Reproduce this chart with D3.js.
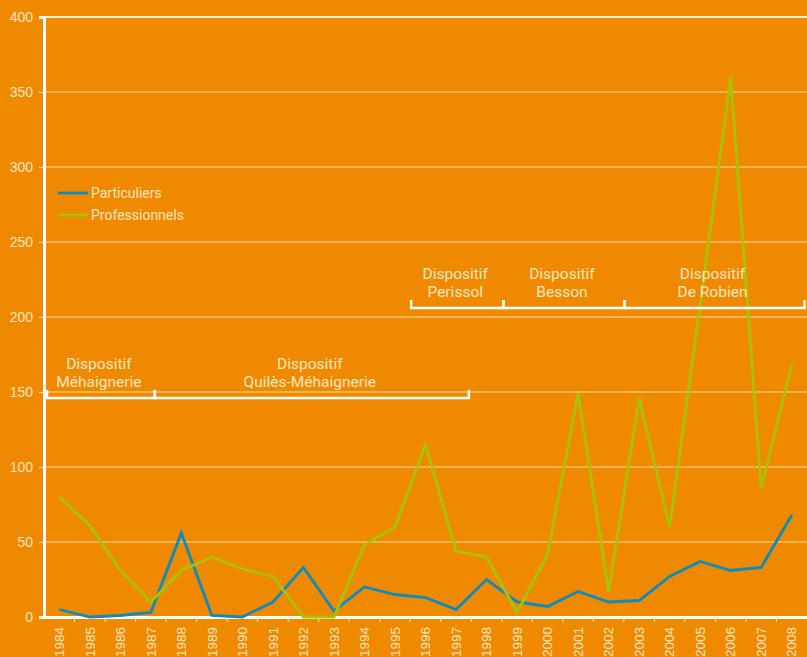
<!DOCTYPE html>
<html>
<head>
<meta charset="utf-8">
<script src="https://cdn.jsdelivr.net/npm/d3@7"></script>
<style>
  html, body { margin: 0; padding: 0; background: #ef8a00; }
  svg { display: block; font-family: "Roboto", "DejaVu Sans", sans-serif; }
</style>
</head>
<body>
<div id="chart"></div>
<script>
// Years and series values
const years = d3.range(1984, 2009);
const particuliers = [5, 0, 1, 3, 56, 1, 0, 10, 33, 4, 20, 15, 13, 5, 25, 10, 7, 17, 10, 11, 27, 37, 31, 33, 68];
const professionnels = [80, 61, 31, 10, 31, 40, 32, 27, 0, 0, 48, 60, 115, 44, 40, 3, 42, 149, 17, 146, 60, 208, 360, 86, 168];
const yTicks = [0, 50, 100, 150, 200, 250, 300, 350, 400];

// Periods of the tax schemes (year span, level of the bracket)
const periods = [
    { lines: ["Dispositif", "Méhaignerie"], from: 1983.6, to: 1987.13, level: 146 },
    { lines: ["Dispositif", "Quilès-Méhaignerie"], from: 1987.13, to: 1997.42, level: 146 },
    { lines: ["Dispositif", "Perissol"], from: 1995.53, to: 1998.55, level: 206 },
    { lines: ["Dispositif", "Besson"], from: 1998.55, to: 2002.52, level: 206 },
    { lines: ["Dispositif", "De Robien"], from: 2002.52, to: 2008.42, level: 206 }
];

const series = [
    { name: "Particuliers", values: particuliers, color: "#0b8bc4" },
    { name: "Professionnels", values: professionnels, color: "#a8c300" }
];

const width = 807, height = 657;
const margin = { top: 17, right: 0, bottom: 40, left: 44 };
const textColor = "#fde6c4";

const svg = d3.select("#chart")
    .append("svg")
    .attr("width", width)
    .attr("height", height);

svg.append("rect")
    .attr("width", width)
    .attr("height", height)
    .attr("fill", "#ef8a00");

const x = d3.scaleBand()
    .domain(years)
    .range([margin.left, width - margin.right]);

// continuous year scale, for the brackets
const xYear = d3.scaleLinear()
    .domain([1984, 2008])
    .range([x(1984) + x.bandwidth() / 2, x(2008) + x.bandwidth() / 2]);

const y = d3.scaleLinear()
    .domain([0, 400])
    .range([height - margin.bottom, margin.top]);

// Gridlines
svg.append("g")
    .selectAll("line")
    .data(yTicks.slice(1))
    .enter()
    .append("line")
    .attr("x1", margin.left)
    .attr("x2", width)
    .attr("y1", d => y(d))
    .attr("y2", d => y(d))
    .attr("stroke", d => d === 400 ? "#fdf0dc" : "#f9d9a6")
    .attr("stroke-width", d => d === 400 ? 2 : 1.2);

// Y axis
const yAxis = svg.append("g")
    .attr("transform", `translate(${margin.left},0)`)
    .call(d3.axisLeft(y).tickValues(yTicks).tickSize(5).tickPadding(6));
yAxis.select(".domain").attr("stroke", "#fff").attr("stroke-width", 3);
yAxis.selectAll(".tick line").attr("stroke", "#fde6c4");
yAxis.selectAll("text")
    .attr("fill", textColor)
    .style("font-size", "14px");

// X axis
const xAxis = svg.append("g")
    .attr("transform", `translate(0,${y(0)})`)
    .call(d3.axisBottom(x).tickSize(0).tickSizeOuter(0));
xAxis.select(".domain").attr("stroke", "#fff").attr("stroke-width", 3);
xAxis.selectAll("text")
    .attr("fill", textColor)
    .style("font-size", "13.5px")
    .attr("text-anchor", "end")
    .attr("transform", "rotate(-90)")
    .attr("x", -10)
    .attr("y", 0)
    .attr("dy", "0.35em");

// tick marks on band boundaries
svg.append("g")
    .selectAll("line")
    .data(years.slice(1))
    .enter()
    .append("line")
    .attr("x1", d => x(d))
    .attr("x2", d => x(d))
    .attr("y1", y(0))
    .attr("y2", y(0) + 5)
    .attr("stroke", "#fde6c4")
    .attr("stroke-width", 1);

// Lines
const line = d3.line()
    .x((d, i) => x(years[i]) + x.bandwidth() / 2)
    .y(d => y(d));

svg.append("g")
    .selectAll("path")
    .data(series)
    .enter()
    .append("path")
    .attr("d", d => line(d.values))
    .attr("fill", "none")
    .attr("stroke", d => d.color)
    .attr("stroke-width", 2.8)
    .attr("stroke-linejoin", "miter");

// Brackets
const brackets = svg.append("g")
    .selectAll("g")
    .data(periods)
    .enter()
    .append("g");

brackets.append("path")
    .attr("d", d => {
        const x1 = xYear(d.from), x2 = xYear(d.to), yb = y(d.level);
        return `M${x1},${yb - 8}V${yb}H${x2}V${yb - 8}`;
    })
    .attr("fill", "none")
    .attr("stroke", "#fff")
    .attr("stroke-width", 2.5);

brackets.append("text")
    .attr("text-anchor", "middle")
    .attr("fill", textColor)
    .style("font-size", "15.5px")
    .selectAll("tspan")
    .data(d => d.lines.map(t => ({ t, d })))
    .enter()
    .append("tspan")
    .attr("x", o => (xYear(o.d.from) + xYear(o.d.to)) / 2 - 2)
    .attr("y", (o, i) => y(o.d.level) - 29.5 + i * 18.8)
    .text(o => o.t);

// Legend
const legend = svg.append("g")
    .selectAll("g")
    .data(series)
    .enter()
    .append("g")
    .attr("transform", (d, i) => `translate(58,${193 + i * 22})`);

legend.append("line")
    .attr("x1", 0)
    .attr("x2", 30)
    .attr("stroke", d => d.color)
    .attr("stroke-width", 2.8);

legend.append("text")
    .attr("x", 33)
    .attr("dy", "0.35em")
    .attr("fill", textColor)
    .style("font-size", "14px")
    .text(d => d.name);
</script>
</body>
</html>
